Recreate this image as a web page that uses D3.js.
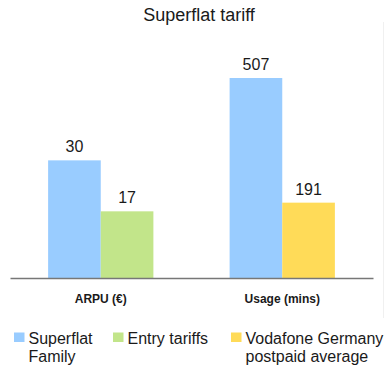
<!DOCTYPE html>
<html>
<head>
<meta charset="utf-8">
<script src="https://cdn.jsdelivr.net/npm/d3@7"></script>
<style>
  html, body { margin: 0; padding: 0; background: #fff; }
  svg { display: block; font-family: "Liberation Sans", Arial, sans-serif; }
</style>
</head>
<body>
<svg id="chart" width="384" height="370"></svg>
<script>
// Chart data
const title = "Superflat tariff";
const groups = ["ARPU (€)", "Usage (mins)"];
// each group is plotted against its own value scale
const groupMax = [51, 507];
const seriesNames = ["Superflat Family", "Entry tariffs", "Vodafone Germany postpaid average"];
const seriesLegend = [["Superflat", "Family"], ["Entry tariffs"], ["Vodafone Germany", "postpaid average"]];
const seriesColors = ["#99ccff", "#c2e58a", "#ffdb58"];
// values per series, one entry per group (null = not shown in that group)
const superflatFamily = [30, 507];
const entryTariffs = [17, null];
const vodafoneAverage = [null, 191];
const seriesValues = [superflatFamily, entryTariffs, vodafoneAverage];

const svg = d3.select("#chart");
const baseY = 278;
const topY = 78;

// bars present in each group, in order
const bars = [];
groups.forEach((g, gi) => {
  let slot = 0;
  seriesValues.forEach((vals, si) => {
    if (vals[gi] != null) {
      bars.push({ group: g, gi, si, slot: slot++, value: vals[gi] });
    }
  });
});

const x0 = d3.scaleBand().domain(groups).range([10, 373])
  .paddingInner(0.42).paddingOuter(0.21);
const x1 = d3.scaleBand().domain([0, 1]).range([0, x0.bandwidth()]);
const yScales = groupMax.map(m => d3.scaleLinear().domain([0, m]).range([baseY, topY]));

// faint frame edge on the right
svg.append("line")
  .attr("x1", 383.5).attr("x2", 383.5).attr("y1", 22).attr("y2", 318)
  .attr("stroke", "#f0f0f0").attr("stroke-width", 1);

// title
svg.append("text")
  .attr("x", 199).attr("y", 21)
  .attr("text-anchor", "middle")
  .attr("font-size", 18).attr("fill", "#1a1a1a")
  .text(title);

// bars
svg.append("g").selectAll("rect").data(bars).join("rect")
  .attr("x", d => x0(d.group) + x1(d.slot))
  .attr("width", x1.bandwidth())
  .attr("y", d => yScales[d.gi](d.value))
  .attr("height", d => baseY - yScales[d.gi](d.value))
  .attr("fill", d => seriesColors[d.si]);

// value labels
svg.append("g").selectAll("text").data(bars).join("text")
  .attr("x", d => x0(d.group) + x1(d.slot) + x1.bandwidth() / 2)
  .attr("y", d => yScales[d.gi](d.value) - 8)
  .attr("text-anchor", "middle")
  .attr("font-size", 16).attr("fill", "#1a1a1a")
  .text(d => d.value);

// category axis
const xAxis = svg.append("g")
  .attr("transform", `translate(0,${baseY})`)
  .call(d3.axisBottom(x0).tickSize(0).tickPadding(16));
xAxis.select(".domain").attr("stroke", "#777").attr("stroke-width", 1.6);
xAxis.selectAll(".tick text")
  .attr("font-family", "'Liberation Sans', Arial, sans-serif")
  .attr("font-size", 12).attr("font-weight", "bold").attr("fill", "#1a1a1a");

// legend
const legendX = [14, 113, 231];
const legend = svg.append("g").selectAll("g").data(seriesNames).join("g")
  .attr("transform", (d, i) => `translate(${legendX[i]},0)`);
legend.append("rect")
  .attr("x", 0).attr("y", 332.5).attr("width", 10.5).attr("height", 9.5)
  .attr("fill", (d, i) => seriesColors[i]);
legend.append("text")
  .attr("x", 14.5).attr("y", 343.5)
  .attr("font-size", 16).attr("fill", "#1a1a1a")
  .selectAll("tspan").data((d, i) => seriesLegend[i]).join("tspan")
  .attr("x", 14.5).attr("dy", (d, j) => j === 0 ? 0 : 18.5)
  .text(d => d);
</script>
</body>
</html>
